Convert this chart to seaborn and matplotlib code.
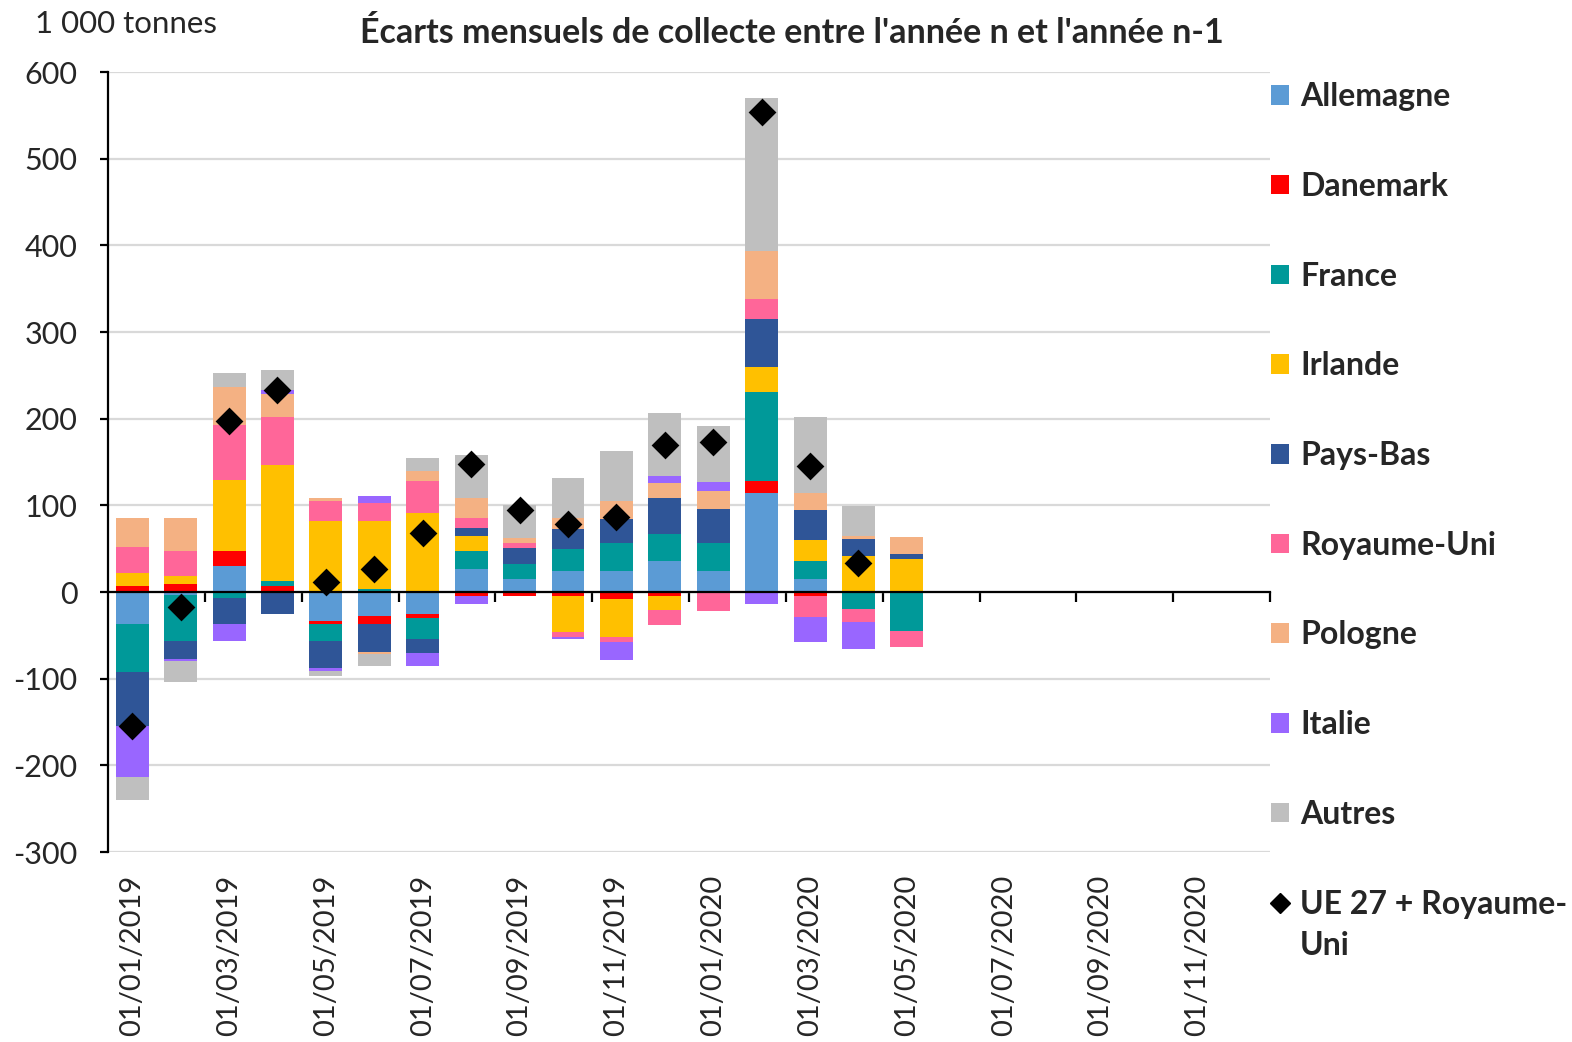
import numpy as np
import pandas as pd
import seaborn as sns
import matplotlib.pyplot as plt
from matplotlib.patches import Patch
from matplotlib.lines import Line2D

# months on the axis (data only up to 05/2020)
months = pd.date_range('2019-01-01', periods=24, freq='MS').strftime('%d/%m/%Y').tolist()

# monthly gaps, 1 000 tonnes (01/2019 .. 05/2020)
allemagne = [-37, -4, 30.5, 0, -34, -28, -25, 27, 15.5, 24, 24, 35.5, 24, 114.5, 15.5, 0, 0]
danemark = [6.5, 9.5, 17, 6.5, -2.5, -8.5, -5.5, -5, -5, -5, -7.5, -5, 0, 14, -5, 0, 0]
france = [-55, -53, -7, 6.5, -20, 4, -23.5, 20, 17, 25.5, 32, 31.5, 32, 102, 20, -19.5, -45]
irlande = [15, 9, 82, 133.5, 82, 78, 91, 18, 0, -41, -44.5, -15.5, 0, 29, 24, 41.5, 38]
pays_bas = [-63, -20, -30, -25, -31, -32.5, -16.5, 8.5, 18, 23.5, 28.5, 41, 40, 55, 35, 20, 6]
royaume_uni = [31, 29, 63, 55, 23, 20.5, 37, 12, 6, -6, -6, -17, -22, 24, -24, -15, -18]
pologne = [32.5, 38, 43.5, 27, 3, -2.5, 11.5, 23, 6, 12, 20.5, 17.5, 20, 55, 20, 3, 20]
italie = [-58, -3, -20, 4.5, -3.5, 8.5, -15, -9, 0, -2.5, -20, 8.5, 11.5, -14, -28.5, -31.5, 0]
autres = [-27, -24, 17, 23.5, -6, -14, 15, 50, 37.5, 46, 58, 73, 64, 176, 88, 35, 0]

# UE 27 + Royaume-Uni total (no point for 05/2020)
total = [-154, -17.5, 197, 233, 12, 26, 68, 147.5, 95, 78, 86, 170, 173.5, 554, 145, 34]

series = [
    ('Allemagne', allemagne, '#5B9BD5'),
    ('Danemark', danemark, '#FF0000'),
    ('France', france, '#009999'),
    ('Irlande', irlande, '#FFC000'),
    ('Pays-Bas', pays_bas, '#2F5597'),
    ('Royaume-Uni', royaume_uni, '#FF6699'),
    ('Pologne', pologne, '#F4B183'),
    ('Italie', italie, '#9966FF'),
    ('Autres', autres, '#BFBFBF'),
]

sns.set_style('white')
plt.rcParams['font.family'] = ['Lato', 'DejaVu Sans']
plt.rcParams['axes.unicode_minus'] = False

fig = plt.figure(figsize=(15.72, 10.42), dpi=100)
ax = fig.add_axes([0.0687, 0.1823, 0.7392, 0.7486])

x = np.arange(len(allemagne))
pos_base = np.zeros(len(x))
neg_base = np.zeros(len(x))
for name, vals, col in series:
    v = np.array(vals, dtype=float)
    bottom = np.where(v >= 0, pos_base, neg_base)
    ax.bar(x, v, bottom=bottom, width=0.68, color=col, edgecolor='none', zorder=2)
    pos_base += np.where(v >= 0, v, 0)
    neg_base += np.where(v < 0, v, 0)

sns.scatterplot(x=np.arange(len(total)), y=total, marker='D', s=200, color='black',
                edgecolor='black', linewidth=0, zorder=5, legend=False, ax=ax)

ax.set_xlim(-0.5, 23.5)
ax.set_ylim(-300, 600)
ax.set_yticks(range(-300, 601, 100))
ax.yaxis.grid(True, color='#D9D9D9', linewidth=1.6)
ax.set_axisbelow(True)
ax.set_xlabel('')
ax.set_ylabel('')

for s in ['top', 'right']:
    ax.spines[s].set_visible(False)
ax.spines['left'].set_color('black')
ax.spines['left'].set_linewidth(1.6)
ax.spines['bottom'].set_position(('data', 0))
ax.spines['bottom'].set_color('black')
ax.spines['bottom'].set_linewidth(1.6)
ax.spines['bottom'].set_zorder(4)

ax.set_xticks(np.arange(1.5, 24, 2))
ax.tick_params(axis='x', bottom=True, direction='out', length=7, width=1.6,
               color='black', labelbottom=False)
ax.tick_params(axis='y', left=True, direction='out', length=6, width=1.6,
               color='black', labelsize=22, pad=16)

sec = ax.secondary_xaxis('bottom')
sec.set_xticks(range(0, 24, 2), months[::2], rotation=90)
sec.tick_params(length=0, pad=16, labelsize=21)
sec.spines['bottom'].set_visible(False)

fig.text(0.504, 0.968, "Écarts mensuels de collecte entre l'année n et l'année n-1",
         ha='center', va='center', fontsize=24.5, fontweight='bold')
fig.text(0.022, 0.977, '1 000 tonnes', ha='left', va='center', fontsize=22.5)

handles = [Patch(facecolor=c, edgecolor='none') for _, _, c in series]
handles.append(Line2D([], [], marker='D', color='black', linestyle='none', markersize=10))
labels = [n for n, _, _ in series] + ['UE 27 + Royaume-']
leg = fig.legend(handles, labels, loc='upper left', bbox_to_anchor=(0.8086, 0.921),
                 frameon=False, prop=dict(family='Lato', weight='bold', size=23),
                 handlelength=0.56, handleheight=0.56, handletextpad=0.35,
                 labelspacing=1.90, borderpad=0, borderaxespad=0)

# second line of the last legend label, under its first line
fig.canvas.draw()
bb = leg.get_texts()[-1].get_window_extent().transformed(fig.transFigure.inverted())
fig.text(bb.x0, bb.y0 - 0.04, 'Uni', ha='left', va='bottom',
         fontsize=23, fontweight='bold')

fig.savefig('out.png', dpi=100)
